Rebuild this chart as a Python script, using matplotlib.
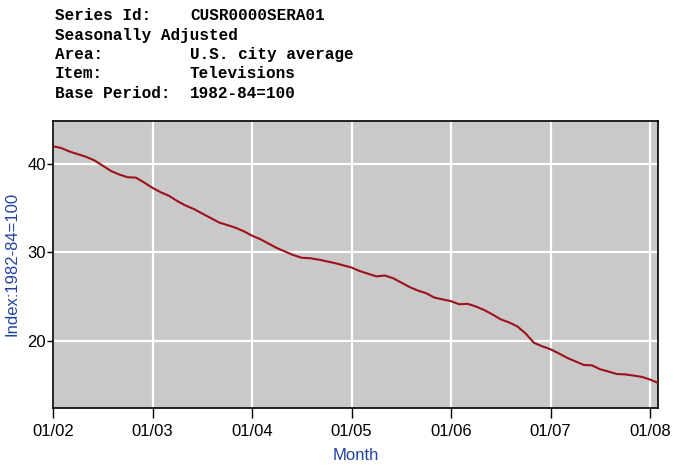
# CPI televisions index, U.S. city average, monthly 2002-2008

import numpy as np
import matplotlib.pyplot as plt

# header lines (label, value)
header_labels = ['Series Id:', 'Seasonally Adjusted', 'Area:', 'Item:', 'Base Period:']
header_values = ['CUSR0000SERA01', '', 'U.S. city average', 'Televisions', '1982-84=100']

# monthly index values, Jan 2002 .. Feb 2008
idx_2002 = [42.0, 41.8, 41.4, 41.1, 40.8, 40.4, 39.8, 39.2, 38.8, 38.5, 38.45, 37.9]
idx_2003 = [37.3, 36.8, 36.4, 35.8, 35.3, 34.9, 34.4, 33.9, 33.4, 33.1, 32.8, 32.4]
idx_2004 = [31.9, 31.5, 31.0, 30.5, 30.1, 29.7, 29.4, 29.35, 29.2, 29.0, 28.8, 28.55]
idx_2005 = [28.3, 27.9, 27.6, 27.3, 27.4, 27.1, 26.6, 26.1, 25.7, 25.4, 24.9, 24.7]
idx_2006 = [24.5, 24.15, 24.2, 23.9, 23.5, 23.0, 22.45, 22.1, 21.65, 20.85, 19.8, 19.4]
idx_2007 = [19.07, 18.6, 18.1, 17.7, 17.3, 17.25, 16.8, 16.55, 16.27, 16.23, 16.1, 15.95]
idx_2008 = [15.65, 15.25]

values = idx_2002 + idx_2003 + idx_2004 + idx_2005 + idx_2006 + idx_2007 + idx_2008
months = np.arange(len(values))

xtick_pos = [0, 12, 24, 36, 48, 60, 72]
xtick_labels = ['01/02', '01/03', '01/04', '01/05', '01/06', '01/07', '01/08']
ytick_pos = [20, 30, 40]

fig = plt.figure(figsize=(6.8, 4.72), dpi=100)
ax = fig.add_axes([53 / 680, 1 - 408.3 / 472, (658.3 - 53) / 680, (408.3 - 121) / 472])

# header block
for i, (lab, val) in enumerate(zip(header_labels, header_values)):
    y = 1 - (15.7 + 19.4 * i) / 472
    fig.text(55 / 680, y, lab, family='Liberation Mono', fontweight='bold',
             fontsize=11.5, va='center', ha='left')
    if val:
        fig.text(190 / 680, y, val, family='Liberation Mono', fontweight='bold',
                 fontsize=11.5, va='center', ha='left')

ax.set_facecolor('#c9c9c9')
ax.plot(months, values, color='#a01018', linewidth=1.5, zorder=3)

ax.set_xlim(0, 73)
ax.set_ylim(12.4, 44.85)
ax.set_xticks(xtick_pos)
ax.set_xticklabels(xtick_labels)
ax.set_yticks(ytick_pos)
ax.grid(True, color='white', linewidth=1.6)
ax.set_axisbelow(True)

ax.tick_params(axis='x', length=7, width=1, labelsize=12, pad=4)
ax.tick_params(axis='y', length=4, width=1, labelsize=12, pad=1)
for s in ax.spines.values():
    s.set_color('black')
    s.set_linewidth(1.2)

blue = '#2244a0'
fig.text(12 / 680, 1 - 264 / 472, 'Index:1982-84=100', rotation=90, color=blue,
         fontsize=12, family='Liberation Sans', va='center', ha='center')
fig.text(356 / 680, 1 - 455 / 472, 'Month', color=blue, fontsize=12,
         family='Liberation Sans', va='center', ha='center')
for lbl in ax.get_xticklabels() + ax.get_yticklabels():
    lbl.set_family('Liberation Sans')

plt.savefig('out.png', dpi=100)
